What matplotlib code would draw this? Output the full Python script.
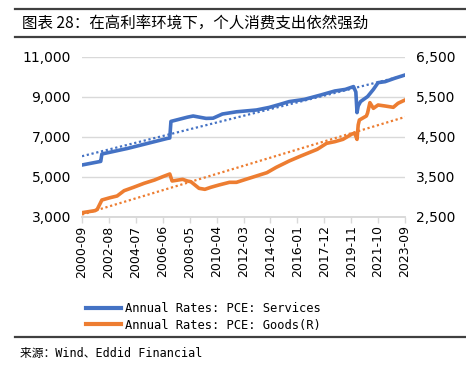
import matplotlib
matplotlib.use('Agg')
import matplotlib.pyplot as plt
import pandas as pd

# data (annual rates)
start_month = '2000-09'
end_month = '2023-09'
tick_labels = ['2000-09', '2002-08', '2004-07', '2006-06', '2008-05', '2010-04', '2012-03',
               '2014-02', '2016-01', '2017-12', '2019-11', '2021-10', '2023-09']

services_dates = ['2000-09', '2001-12', '2002-01', '2002-02', '2003-12', '2006-10', '2006-12',
                  '2007-01', '2008-03', '2008-08', '2009-07', '2010-01', '2010-09', '2011-09',
                  '2013-02', '2014-01', '2014-10', '2015-06', '2016-07', '2017-09', '2018-09',
                  '2019-06', '2020-01', '2020-03', '2020-04', '2020-05', '2020-07', '2021-01',
                  '2021-06', '2021-10', '2022-04', '2022-12', '2023-09']
services_values = [5600, 5770, 5780, 6150, 6430, 6930, 6950,
                   7780, 7990, 8050, 7930, 7940, 8150, 8260,
                   8350, 8480, 8630, 8770, 8880, 9100, 9300,
                   9380, 9520, 9250, 8220, 8550, 8770, 9020,
                   9380, 9717, 9767, 9933, 10100]

goods_dates = ['2000-09', '2001-08', '2001-10', '2002-02', '2002-09', '2003-03', '2003-09',
               '2004-05', '2005-02', '2005-11', '2006-06', '2006-12', '2007-02', '2007-11',
               '2008-03', '2008-06', '2009-01', '2009-06', '2009-11', '2010-06', '2011-03',
               '2011-09', '2012-05', '2013-02', '2013-11', '2014-07', '2015-02', '2015-06',
               '2016-04', '2017-06', '2018-02', '2018-09', '2019-04', '2019-12', '2020-02',
               '2020-03', '2020-04', '2020-05', '2020-06', '2020-12', '2021-01', '2021-03',
               '2021-06', '2021-10', '2022-04', '2022-11', '2023-03', '2023-09']
goods_values = [2608, 2658, 2690, 2925, 2983, 3025, 3158,
                3242, 3342, 3425, 3508, 3575, 3400, 3442,
                3400, 3383, 3217, 3192, 3242, 3300, 3367,
                3367, 3442, 3525, 3608, 3742, 3842, 3900,
                4025, 4192, 4342, 4383, 4442, 4580, 4590,
                4520, 4440, 4800, 4925, 5025, 5100, 5358,
                5217, 5300, 5275, 5242, 5342, 5425]

services_trend = [6040, 10080]
goods_trend = [2560, 5000]

BLUE = '#4472C4'
ORANGE = '#ED7D31'
GRID = '#D9D9D9'
RULE = '#404040'


def month_pos(d):
    return (pd.Period(d, 'M') - pd.Period(start_month, 'M')).n


n_last = month_pos(end_month)
sx = [month_pos(d) for d in services_dates]
gx = [month_pos(d) for d in goods_dates]
tx = [month_pos(d) for d in tick_labels]

fig = plt.figure(figsize=(4.66, 3.68), dpi=100)

ax = fig.add_axes([82 / 466, 1 - 217 / 368, 323 / 466, 160 / 368])
ax2 = ax.twinx()

ax.plot(sx, services_values, color=BLUE, lw=2.6, solid_joinstyle='round', zorder=3)
ax.plot([0, n_last], services_trend, color=BLUE, lw=1.6, linestyle=(0, (1, 1.2)), zorder=4)
ax2.plot(gx, goods_values, color=ORANGE, lw=2.6, solid_joinstyle='round', zorder=3)
ax2.plot([0, n_last], goods_trend, color=ORANGE, lw=1.6, linestyle=(0, (1, 1.2)), zorder=4)

ax.set_xlim(0, n_last)
ax.set_ylim(3000, 11000)
ax2.set_ylim(2500, 6500)
ax.set_yticks([3000, 5000, 7000, 9000, 11000])
ax2.set_yticks([2500, 3500, 4500, 5500, 6500])
ax.set_yticklabels(['3,000', '5,000', '7,000', '9,000', '11,000'], fontsize=10)
ax2.set_yticklabels(['2,500', '3,500', '4,500', '5,500', '6,500'], fontsize=10)
ax.set_xticks(tx)
ax.set_xticklabels(tick_labels, rotation=90, fontsize=9)
ax.grid(axis='y', color=GRID, lw=1)
ax.set_axisbelow(True)

for a in (ax, ax2):
    for s in ('top', 'left', 'right'):
        a.spines[s].set_visible(False)
    a.spines['bottom'].set_color(GRID)
    a.spines['bottom'].set_linewidth(1.2)
ax.tick_params(axis='y', length=0, pad=8)
ax2.tick_params(axis='y', length=0, pad=8)
ax.tick_params(axis='x', length=4, color=GRID, width=1, pad=2)

# legend
handles = [plt.Line2D([], [], color=BLUE, lw=3), plt.Line2D([], [], color=ORANGE, lw=3)]
fig.legend(handles, ['Annual Rates: PCE: Services', 'Annual Rates: PCE: Goods(R)'],
           loc='upper left', bbox_to_anchor=(86 / 466, 1 - 302 / 368), frameon=False,
           prop={'family': 'DejaVu Sans Mono', 'size': 8.7}, handlelength=2.9,
           handletextpad=0.3, labelspacing=0.3, borderaxespad=0, borderpad=0)

fig.text(22 / 466, 1 - 23 / 368, '图表 28：在高利率环境下，个人消费支出依然强劲',
         family=['Noto Sans CJK SC', 'DejaVu Sans'], fontsize=11.2, va='center', ha='left')
fig.text(20 / 466, 1 - 353 / 368, '来源：Wind、Eddid Financial',
         family=['DejaVu Sans Mono', 'Noto Sans CJK SC'], fontsize=8.5, va='center', ha='left')

# rules above/below the title and above the source line
for yy in (9, 37, 337):
    fig.add_artist(plt.Line2D([15 / 466, 1], [1 - yy / 368, 1 - yy / 368], color=RULE,
                              lw=1.6, transform=fig.transFigure, zorder=10))

fig.savefig('out.png', dpi=100)
